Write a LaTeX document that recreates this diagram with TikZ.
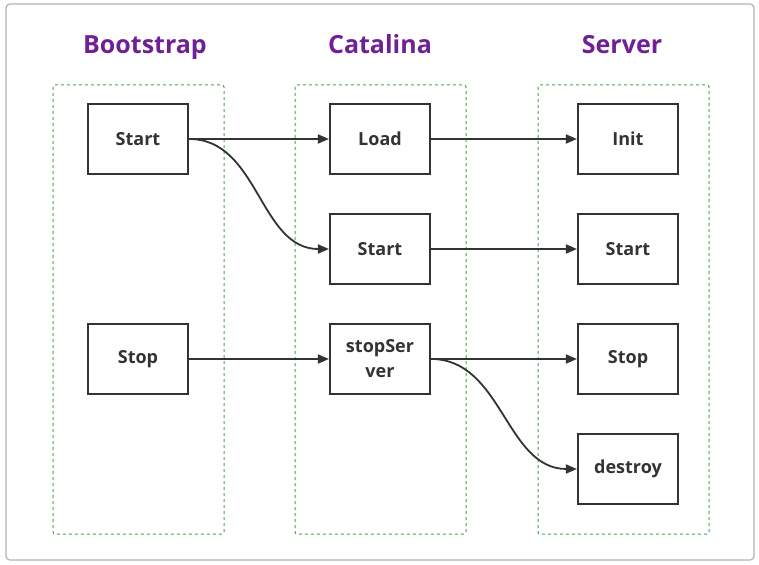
\documentclass[tikz,border=0pt]{standalone}
\usepackage{fontspec}
\setmainfont{Open Sans}[BoldFont={Open Sans Bold}]
\usetikzlibrary{arrows.meta}
\definecolor{titlepurple}{RGB}{112,32,150}
\definecolor{groupgreen}{RGB}{70,165,70}
\definecolor{inkgray}{RGB}{51,51,51}
\begin{document}
\begin{tikzpicture}[x=1pt,y=-1pt,>={Triangle[length=11pt,width=9pt]},
        title/.style={anchor=base,text=titlepurple,font=\fontsize{25}{28}\selectfont\bfseries},
        group/.style={draw=groupgreen,dashed,line width=1pt,rounded corners=2pt},
        method/.style={draw=inkgray,line width=2.2pt,minimum width=100pt,minimum height=70pt,
            inner sep=1pt,align=center,text=inkgray,font=\fontsize{18}{25}\selectfont\bfseries},
        call/.style={->,draw=inkgray,line width=1.8pt}]
        % frame round everything
        \useasboundingbox (0,0) rectangle (759,564);
        \draw[gray!60,line width=1.2pt,rounded corners=4pt] (6,4) rectangle (754,560);

        % the three columns
        \foreach \x/\tx/\name in {138/145/Bootstrap,380/380/Catalina,623/622/Server} {
                \node[title] at (\tx,54) {\name};
                \draw[group] (\x-85,85) rectangle (\x+86,534);
        }

        % Bootstrap
        \node[method] (bstart) at (138,139) {Start};
        \node[method] (bstop)  at (138,359) {Stop};

        % Catalina
        \node[method] (cload)  at (380,139) {Load};
        \node[method] (cstart) at (380,249) {Start};
        \node[method] (cstop)  at (380,359) {stopSer\\ver};

        % Server
        \node[method] (sinit)    at (628,139) {Init};
        \node[method] (sstart)   at (628,249) {Start};
        \node[method] (sstop)    at (628,359) {Stop};
        \node[method] (sdestroy) at (628,469) {destroy};

        % calls
        \draw[call] (bstart.east) -- (cload.west);
        \draw[call] (bstart.east) to[out=0,in=180] (cstart.west);
        \draw[call] (bstop.east) -- (cstop.west);
        \draw[call] (cload.east) -- (sinit.west);
        \draw[call] (cstart.east) -- (sstart.west);
        \draw[call] (cstop.east) -- (sstop.west);
        \draw[call] (cstop.east) to[out=0,in=180] (sdestroy.west);
\end{tikzpicture}
\end{document}
